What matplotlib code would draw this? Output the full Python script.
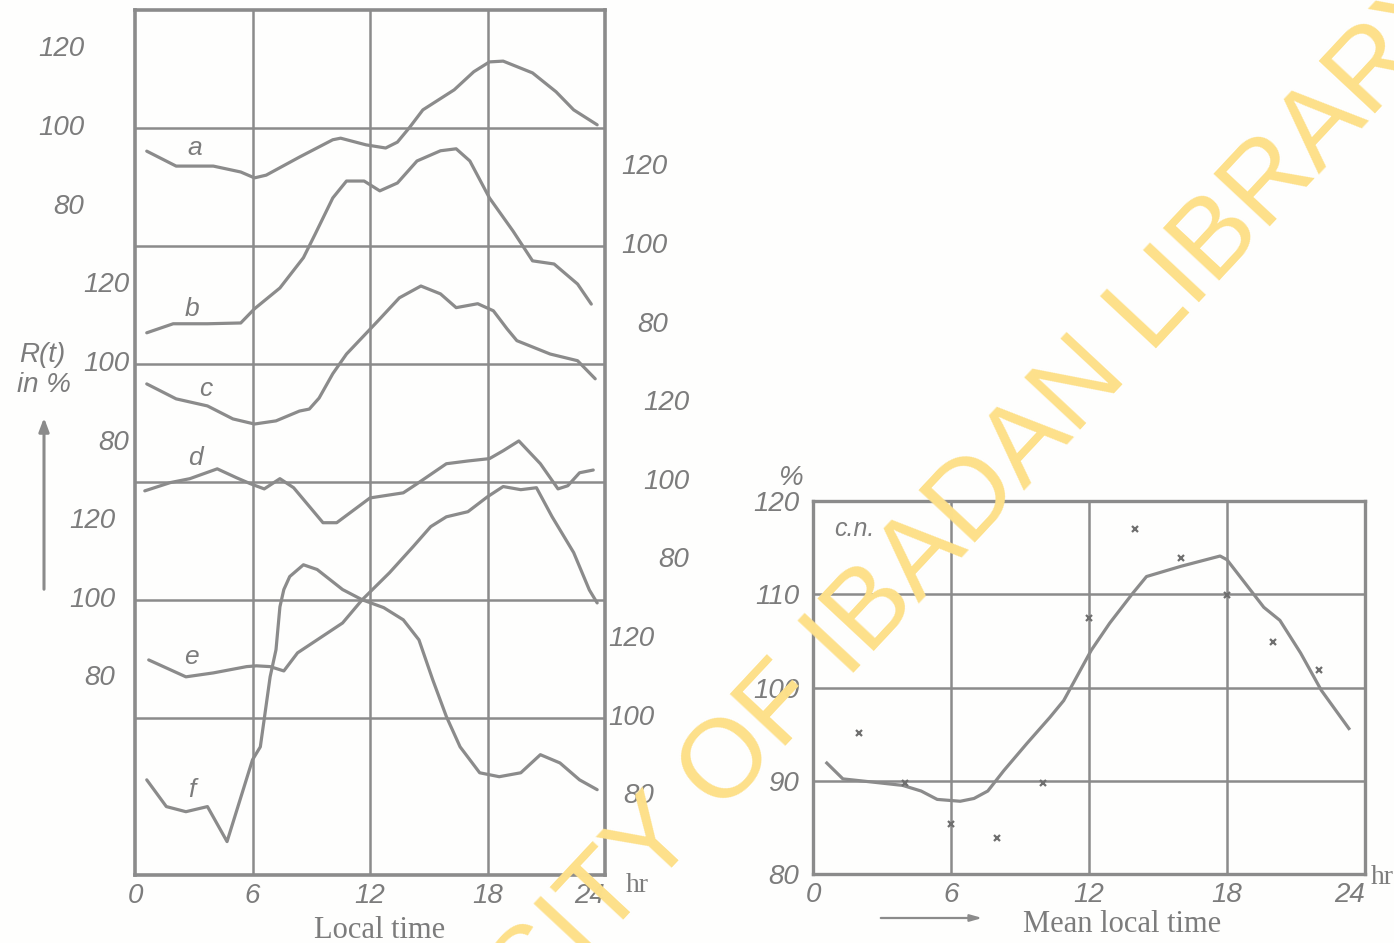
import matplotlib

matplotlib.use("Agg")
import matplotlib.pyplot as plt
from matplotlib.patches import FancyArrowPatch

# diurnal variation R(t), six stations stacked (a..f), each on its own 100 % line
a_hr = [0.6, 2.1, 4.0, 5.4, 6.1, 6.7, 8.4, 10.1, 10.5, 11.8, 12.8, 13.4, 14.0, 14.7,
        16.3, 17.3, 18.1, 18.8, 20.3, 21.5, 22.4, 23.6]
a_val = [94.1, 90.3, 90.3, 88.8, 87.3, 88.0, 92.6, 97.0, 97.4, 95.7, 94.9, 96.4, 100.0,
         104.6, 109.7, 114.3, 116.8, 117.0, 114.0, 109.2, 104.6, 100.8]

b_hr = [0.6, 1.95, 3.7, 5.4, 6.1, 7.4, 8.6, 9.2, 10.1, 10.8, 11.7, 12.5, 13.4, 14.4,
        15.6, 16.4, 17.1, 18.1, 19.3, 20.3, 21.4, 22.6, 23.3]
b_val = [77.9, 80.2, 80.2, 80.4, 84.0, 89.3, 97.0, 103.0, 112.2, 116.5, 116.5, 114.0,
         116.0, 121.6, 124.2, 124.7, 121.6, 112.2, 103.8, 96.2, 95.4, 90.3, 85.2]

c_hr = [0.6, 2.1, 3.7, 5.0, 6.1, 7.2, 8.4, 8.9, 9.4, 10.1, 10.8, 12.4, 13.5, 14.6,
        15.6, 16.4, 17.5, 18.3, 19.0, 19.5, 21.2, 22.6, 23.5]
c_val = [94.9, 91.1, 89.3, 86.0, 84.7, 85.5, 88.0, 88.5, 91.3, 97.5, 102.5, 110.9,
         116.8, 119.8, 117.8, 114.3, 115.3, 113.5, 108.9, 105.9, 102.5, 100.8, 96.2]

d_hr = [0.5, 1.8, 2.8, 4.2, 5.2, 5.9, 6.6, 7.4, 8.1, 9.6, 10.3, 12.0, 13.7, 14.4,
        15.9, 17.0, 18.1, 18.8, 19.6, 20.7, 21.6, 22.1, 22.7, 23.4]
d_val = [97.7, 99.8, 100.8, 103.3, 101.0, 99.5, 98.2, 100.8, 98.5, 89.6, 89.6, 95.9,
         97.2, 99.5, 104.6, 105.3, 105.9, 107.9, 110.4, 104.6, 98.2, 99.0, 102.3, 103.0]

e_hr = [0.7, 2.6, 4.0, 5.7, 6.2, 6.9, 7.6, 8.3, 9.3, 10.6, 11.6, 13.0, 14.2, 15.1,
        15.9, 17.0, 18.0, 18.8, 19.7, 20.5, 21.3, 22.4, 23.2, 23.6]
e_val = [84.7, 80.4, 81.4, 83.0, 83.2, 83.0, 81.9, 86.5, 89.8, 94.1, 100.0, 106.9,
         113.5, 118.6, 121.1, 122.4, 126.2, 128.8, 128.0, 128.5, 121.1, 112.0, 102.5, 99.2]

f_hr = [0.6, 1.6, 2.6, 3.7, 4.7, 6.0, 6.4, 6.9, 7.2, 7.4, 7.6, 7.9, 8.6, 9.3, 10.6,
        11.6, 12.7, 13.7, 14.5, 15.2, 15.9, 16.6, 17.6, 18.6, 19.7, 20.7, 21.7, 22.7, 23.6]
f_val = [84.2, 77.4, 76.1, 77.4, 68.5, 89.3, 92.6, 110.4, 117.3, 128.2, 132.6, 135.9,
         138.9, 137.7, 132.6, 130.0, 128.0, 124.9, 119.8, 109.7, 100.3, 92.6, 86.0,
         85.0, 86.0, 90.6, 88.5, 84.2, 81.7]

station_names = ["a", "b", "c", "d", "e", "f"]
station_hr = [a_hr, b_hr, c_hr, d_hr, e_hr, f_hr]
station_val = [a_val, b_val, c_val, d_val, e_val, f_val]
scale_ticks = [120, 100, 80]

# combined curve (c.n.) and its two-hourly points
cn_hr = [0.6, 1.3, 2.8, 3.9, 4.7, 5.4, 6.4, 7.0, 7.6, 8.3, 9.3, 10.3, 10.9, 12.1, 12.9,
         13.9, 14.5, 16.0, 17.7, 18.0, 19.6, 20.3, 21.2, 22.1, 23.3]
cn_val = [91.9, 90.2, 89.8, 89.5, 88.9, 88.0, 87.8, 88.1, 88.9, 91.1, 94.0, 96.8, 98.6,
          104.0, 106.9, 110.1, 111.9, 113.0, 114.1, 113.7, 108.6, 107.2, 103.7, 99.7, 95.6]
obs_hr = [2, 4, 6, 8, 10, 12, 14, 16, 18, 20, 22]
obs_val = [95.1, 89.8, 85.4, 83.9, 89.8, 107.4, 117.0, 113.9, 109.9, 104.9, 101.9]

hour_ticks = [0, 6, 12, 18, 24]
cn_ticks = [80, 90, 100, 110, 120]

STEP = 30  # % between stacked baselines
W, H = 1394, 943
INK = "#8b8b8b"
TXT = "#7c7c7c"
NUM = dict(family=["Liberation Sans", "DejaVu Sans"], style="italic",
           color=TXT, fontsize=20)
SERIF = dict(family=["Liberation Serif", "DejaVu Serif"], color=TXT)


def fx(px):
    return px / W


def fy(py):
    return 1 - py / H


fig = plt.figure(figsize=(W / 100, H / 100), dpi=100, facecolor="#fefefd")

# ---- left: stacked station curves --------------------------------------------
ax = fig.add_axes([fx(135), fy(875), fx(605) - fx(135), fy(10) - fy(875)])
ax.set_facecolor("none")
ax.set_xlim(0, 24)
ax.set_ylim(-190, 30)
for k in range(6):
    ax.axhline(-STEP * k, color=INK, lw=1.8, zorder=1)
for h in hour_ticks[1:-1]:
    ax.axvline(h, color=INK, lw=1.8, zorder=1)

for k, (hr, val) in enumerate(zip(station_hr, station_val)):
    y = [v - 100 - STEP * k for v in val]
    ax.plot(hr, y, color=INK, lw=2.3, solid_joinstyle="round",
            solid_capstyle="round", zorder=2)

# per-station scales, alternating left / right of the frame
label_x = [-2.6, 27.2, -0.3, 28.3, -1.0, 26.5]
for k in range(6):
    for t in scale_ticks:
        ax.text(label_x[k], t - 100 - STEP * k, str(t), ha="right", va="center",
                clip_on=False, **NUM)

# curve letters: (hour, % offset from the station's 100 % line)
letter_pos = [(3.06, -5.0), (2.9, -16.0), (3.6, -6.4), (3.1, 6.0), (2.9, -14.5), (2.9, -18.3)]
for k, (name, (lx, dy)) in enumerate(zip(station_names, letter_pos)):
    ax.text(lx, dy - STEP * k, name, ha="center", va="center", clip_on=False,
            **{**NUM, "fontsize": 19})

ax.set_xticks(hour_ticks)
ax.set_xticklabels([str(h) for h in hour_ticks], **NUM)
ax.set_yticks([])
ax.tick_params(axis="x", length=0, pad=6)
ax.get_xticklabels()[-1].set_horizontalalignment("right")
for s in ax.spines.values():
    s.set_color(INK)
    s.set_linewidth(2.6)

fig.text(fx(637), fy(885), "hr", ha="center", va="center", fontsize=20, **SERIF)
fig.text(fx(380), fy(930), "Local time", ha="center", va="center", fontsize=22, **SERIF)
fig.text(fx(42), fy(355), "R(t)", ha="center", va="center", **{**NUM, "fontsize": 20})
fig.text(fx(44), fy(385), "in %", ha="center", va="center", **{**NUM, "fontsize": 20})
fig.add_artist(FancyArrowPatch(
    (fx(44), fy(592)), (fx(44), fy(415)), transform=fig.transFigure,
    arrowstyle="-|>,head_length=8,head_width=3", color=INK, lw=2.2))

# ---- right: c.n. mean curve --------------------------------------------------
ax2 = fig.add_axes([fx(813), fy(874), fx(1365) - fx(813), fy(501) - fy(874)])
ax2.set_facecolor("none")
ax2.set_xlim(0, 24)
ax2.set_ylim(80, 120)
for h in hour_ticks[1:-1]:
    ax2.axvline(h, color=INK, lw=1.8, zorder=1)
for t in cn_ticks[1:-1]:
    ax2.axhline(t, color=INK, lw=1.8, zorder=1)
ax2.plot(cn_hr, cn_val, color=INK, lw=2.3, solid_joinstyle="round", zorder=2)
ax2.plot(obs_hr, obs_val, ls="none", marker="x", ms=5, mew=1.6, color="#6f6f6f", zorder=3)
ax2.set_xticks(hour_ticks)
ax2.set_xticklabels([str(h) for h in hour_ticks], **NUM)
ax2.get_xticklabels()[-1].set_horizontalalignment("right")
ax2.set_yticks(cn_ticks)
ax2.set_yticklabels([str(t) for t in cn_ticks], **NUM)
ax2.tick_params(length=0, pad=6)
ax2.tick_params(axis="y", pad=10)
for s in ax2.spines.values():
    s.set_color(INK)
    s.set_linewidth(2.4)
ax2.text(1.8, 117, "c.n.", ha="center", va="center", **{**NUM, "fontsize": 18})

fig.text(fx(790), fy(478), "%", ha="center", va="center", **{**NUM, "fontsize": 20})
fig.text(fx(1382), fy(878), "hr", ha="center", va="center", fontsize=20, **SERIF)
fig.text(fx(1122), fy(924), "Mean local time", ha="center", va="center",
         fontsize=22, **SERIF)
fig.add_artist(FancyArrowPatch(
    (fx(878), fy(918)), (fx(985), fy(918)), transform=fig.transFigure,
    arrowstyle="-|>,head_length=7,head_width=2", color=INK, lw=1.6))

# library stamp across the sheet
fig.text(fx(860), fy(666), "UNIVERSITY OF IBADAN LIBRARY", rotation=47,
         rotation_mode="anchor", ha="center", va="baseline", fontsize=80,
         family=["Liberation Sans", "DejaVu Sans"], color="#fde08a", zorder=10)

fig.savefig("out.png", dpi=100, facecolor=fig.get_facecolor())
